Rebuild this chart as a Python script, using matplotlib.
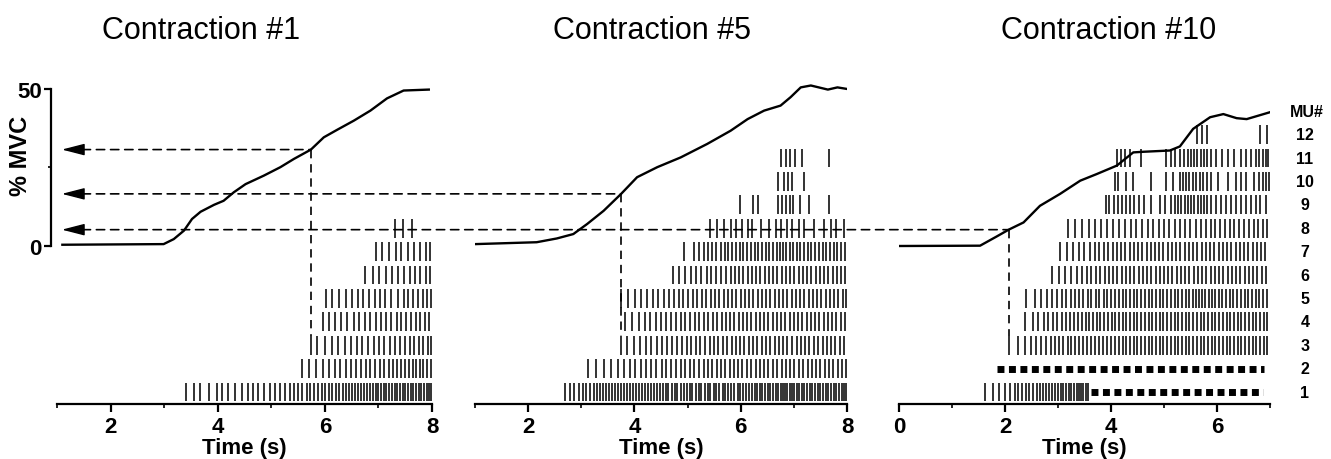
import matplotlib
matplotlib.use("Agg")
import matplotlib.pyplot as plt
from matplotlib.patches import ConnectionPatch
from matplotlib.ticker import MultipleLocator

plt.rcParams["font.family"] = ["Liberation Sans", "DejaVu Sans"]

# ---- force traces (% MVC vs time, s) ----
force1_t = [1.10, 2.99, 3.18, 3.37, 3.52, 3.68, 3.93, 4.11, 4.30, 4.52, 4.86,
            5.17, 5.42, 5.74, 5.98, 6.23, 6.54, 6.85, 7.16, 7.47, 7.94]
force1_y = [0.4, 0.6, 2.2, 4.9, 8.6, 10.9, 13.1, 14.4, 17.1, 19.7, 22.4,
            25.1, 27.7, 30.7, 34.6, 37.0, 39.9, 43.1, 47.0, 49.5, 49.8]

force5_t = [1.00, 2.16, 2.54, 2.85, 3.11, 3.42, 3.75, 4.05, 4.43, 4.87, 5.37,
            5.81, 6.13, 6.44, 6.75, 6.94, 7.13, 7.32, 7.64, 7.82, 8.00]
force5_y = [0.6, 1.2, 2.4, 3.8, 7.0, 11.2, 16.6, 21.9, 25.1, 28.2, 32.5,
            36.7, 40.4, 43.1, 44.7, 47.4, 50.5, 51.1, 49.8, 50.5, 50.0]

force10_t = [0.00, 1.53, 1.84, 2.07, 2.35, 2.66, 3.04, 3.42, 3.73, 4.11, 4.42,
             4.61, 5.11, 5.30, 5.55, 5.87, 6.12, 6.37, 6.56, 6.78, 7.00]
force10_y = [0.0, 0.1, 3.0, 5.2, 7.5, 12.8, 16.6, 20.8, 22.9, 25.6, 29.8,
             30.0, 30.4, 31.7, 37.3, 41.0, 42.0, 40.7, 40.4, 41.5, 42.6]

# ---- motor unit spike times (s), MU1 first ----
spikes1 = [
    [3.41, 3.55, 3.67, 3.83, 3.98, 4.08, 4.20, 4.33, 4.45, 4.56, 4.66, 4.76,
     4.87, 4.98, 5.06, 5.16, 5.25, 5.34, 5.42, 5.50, 5.58, 5.66, 5.73, 5.80,
     5.88, 5.94, 6.01, 6.08, 6.14, 6.20, 6.26, 6.33, 6.39, 6.45, 6.51, 6.56,
     6.62, 6.68, 6.73, 6.79, 6.84, 6.90, 6.95, 7.00, 7.05, 7.10, 7.15, 7.20,
     7.25, 7.30, 7.35, 7.40, 7.45, 7.50, 7.55, 7.60, 7.65, 7.70, 7.75, 7.80,
     7.85, 7.90, 7.95, 7.99],
    [5.57, 5.70, 5.83, 5.96, 6.07, 6.18, 6.29, 6.39, 6.49, 6.58, 6.68, 6.76,
     6.85, 6.94, 7.02, 7.11, 7.19, 7.27, 7.34, 7.42, 7.49, 7.57, 7.64, 7.71,
     7.78, 7.84, 7.91, 7.98],
    [5.74, 5.86, 6.00, 6.13, 6.25, 6.37, 6.48, 6.60, 6.70, 6.81, 6.91, 7.01,
     7.11, 7.21, 7.30, 7.40, 7.49, 7.58, 7.67, 7.76, 7.84, 7.93, 7.99],
    [5.96, 6.07, 6.19, 6.31, 6.42, 6.54, 6.64, 6.75, 6.85, 6.95, 7.05, 7.15,
     7.24, 7.34, 7.43, 7.52, 7.61, 7.70, 7.78, 7.86, 7.94],
    [6.02, 6.14, 6.27, 6.39, 6.50, 6.61, 6.72, 6.83, 6.93, 7.03, 7.13, 7.23,
     7.37, 7.47, 7.56, 7.65, 7.74, 7.83, 7.91, 7.99],
    [6.75, 6.89, 7.01, 7.14, 7.25, 7.36, 7.47, 7.58, 7.68, 7.78, 7.88, 7.97],
    [6.95, 7.07, 7.20, 7.32, 7.43, 7.55, 7.66, 7.77, 7.88, 7.97],
    [7.31, 7.46, 7.62],
]

spikes5 = [
    [2.70, 2.78, 2.87, 2.95, 3.03, 3.09, 3.16, 3.23, 3.29, 3.35, 3.41, 3.46,
     3.52, 3.58, 3.63, 3.69, 3.75, 3.80, 3.86, 3.91, 3.97, 4.03, 4.08, 4.14,
     4.19, 4.25, 4.31, 4.36, 4.42, 4.48, 4.53, 4.59, 4.64, 4.70, 4.76, 4.81,
     4.87, 4.93, 4.98, 5.04, 5.09, 5.15, 5.21, 5.26, 5.32, 5.38, 5.43, 5.49,
     5.54, 5.60, 5.66, 5.71, 5.77, 5.82, 5.88, 5.94, 5.99, 6.05, 6.10, 6.16,
     6.21, 6.26, 6.31, 6.36, 6.41, 6.46, 6.51, 6.56, 6.61, 6.66, 6.71, 6.76,
     6.80, 6.84, 6.88, 6.92, 6.96, 7.00, 7.05, 7.10, 7.15, 7.20, 7.25, 7.30,
     7.35, 7.40, 7.45, 7.50, 7.55, 7.60, 7.65, 7.70, 7.75, 7.80, 7.85, 7.90,
     7.95, 7.99],
    [3.12, 3.27, 3.43, 3.56, 3.69, 3.80, 3.91, 4.02, 4.12, 4.22, 4.32, 4.41,
     4.51, 4.60, 4.69, 4.78, 4.87, 4.96, 5.04, 5.13, 5.22, 5.30, 5.38, 5.46,
     5.55, 5.63, 5.71, 5.79, 5.87, 5.95, 6.03, 6.11, 6.20, 6.28, 6.36, 6.44,
     6.52, 6.60, 6.69, 6.77, 6.85, 6.93, 7.01, 7.09, 7.17, 7.26, 7.34, 7.42,
     7.50, 7.58, 7.66, 7.74, 7.83, 7.91, 7.99],
    [3.75, 3.86, 3.99, 4.10, 4.21, 4.32, 4.42, 4.52, 4.61, 4.71, 4.80, 4.89,
     4.98, 5.07, 5.16, 5.24, 5.33, 5.42, 5.50, 5.58, 5.66, 5.74, 5.83, 5.91,
     5.99, 6.07, 6.15, 6.23, 6.31, 6.40, 6.48, 6.56, 6.64, 6.72, 6.80, 6.88,
     6.97, 7.05, 7.13, 7.21, 7.29, 7.37, 7.45, 7.54, 7.62, 7.70, 7.78, 7.86,
     7.94],
    [3.83, 3.96, 4.08, 4.19, 4.30, 4.40, 4.50, 4.60, 4.69, 4.78, 4.87, 4.96,
     5.05, 5.14, 5.22, 5.31, 5.39, 5.47, 5.56, 5.64, 5.72, 5.80, 5.88, 5.96,
     6.04, 6.12, 6.20, 6.28, 6.36, 6.44, 6.52, 6.60, 6.68, 6.76, 6.84, 6.92,
     7.00, 7.08, 7.16, 7.24, 7.32, 7.40, 7.48, 7.56, 7.64, 7.72, 7.80, 7.88,
     7.96],
    [3.74, 3.88, 4.01, 4.13, 4.24, 4.35, 4.45, 4.55, 4.65, 4.74, 4.83, 4.92,
     5.01, 5.10, 5.18, 5.27, 5.35, 5.44, 5.52, 5.60, 5.68, 5.76, 5.84, 5.92,
     6.00, 6.08, 6.16, 6.24, 6.32, 6.40, 6.48, 6.56, 6.64, 6.72, 6.80, 6.88,
     6.96, 7.04, 7.12, 7.20, 7.28, 7.36, 7.44, 7.52, 7.60, 7.68, 7.76, 7.84,
     7.92, 7.99],
    [4.72, 4.84, 4.95, 5.06, 5.16, 5.26, 5.36, 5.45, 5.54, 5.63, 5.72, 5.81,
     5.89, 5.97, 6.05, 6.13, 6.21, 6.29, 6.37, 6.45, 6.53, 6.61, 6.69, 6.77,
     6.85, 6.93, 7.01, 7.09, 7.17, 7.25, 7.33, 7.41, 7.49, 7.57, 7.65, 7.73,
     7.81, 7.89, 7.97],
    [4.94, 5.12, 5.21, 5.30, 5.38, 5.46, 5.54, 5.62, 5.70, 5.77, 5.84, 5.91,
     5.98, 6.05, 6.12, 6.19, 6.26, 6.33, 6.40, 6.47, 6.54, 6.61, 6.68, 6.74,
     6.80, 6.86, 6.92, 6.98, 7.05, 7.12, 7.19, 7.26, 7.33, 7.40, 7.47, 7.54,
     7.61, 7.68, 7.75, 7.82, 7.89, 7.96],
    [5.43, 5.56, 5.69, 5.81, 5.91, 6.03, 6.13, 6.22, 6.38, 6.53, 6.66, 6.75,
     6.88, 6.97, 7.10, 7.19, 7.38, 7.57, 7.70, 7.79, 7.95],
    [5.99, 6.24, 6.33, 6.70, 6.77, 6.85, 6.92, 6.99, 7.11, 7.28, 7.67],
    [6.71, 6.81, 6.89, 6.96, 7.19],
    [6.76, 6.85, 6.93, 7.02, 7.15, 7.66],
]

spikes10 = [
    [1.62, 1.77, 1.89, 2.00, 2.09, 2.18, 2.25, 2.33, 2.40, 2.46, 2.53, 2.60,
     2.66, 2.72, 2.78, 2.83, 2.89, 2.95, 3.00, 3.05, 3.10, 3.15, 3.20, 3.25,
     3.30, 3.35, 3.39, 3.44, 3.48, 3.52, 3.57],
    [],
    [2.07, 2.25, 2.38, 2.49, 2.59, 2.68, 2.77, 2.86, 2.94, 3.02, 3.10, 3.18,
     3.25, 3.33, 3.40, 3.48, 3.55, 3.63, 3.70, 3.78, 3.85, 3.93, 4.00, 4.08,
     4.15, 4.22, 4.29, 4.36, 4.43, 4.50, 4.57, 4.64, 4.71, 4.78, 4.85, 4.92,
     4.99, 5.06, 5.13, 5.20, 5.27, 5.34, 5.41, 5.48, 5.55, 5.62, 5.69, 5.76,
     5.83, 5.90, 5.97, 6.04, 6.11, 6.18, 6.25, 6.32, 6.39, 6.46, 6.53, 6.60,
     6.67, 6.74, 6.81, 6.88, 6.95],
    [2.38, 2.52, 2.63, 2.73, 2.82, 2.91, 2.99, 3.07, 3.15, 3.23, 3.30, 3.38,
     3.45, 3.52, 3.59, 3.66, 3.73, 3.80, 3.87, 3.94, 4.01, 4.08, 4.15, 4.22,
     4.29, 4.36, 4.43, 4.50, 4.57, 4.64, 4.71, 4.78, 4.85, 4.92, 4.99, 5.06,
     5.13, 5.20, 5.27, 5.34, 5.41, 5.48, 5.55, 5.62, 5.69, 5.76, 5.83, 5.90,
     5.97, 6.04, 6.11, 6.18, 6.25, 6.32, 6.39, 6.46, 6.53, 6.60, 6.67, 6.74,
     6.81, 6.88, 6.95],
    [2.39, 2.56, 2.68, 2.79, 2.89, 2.98, 3.07, 3.16, 3.24, 3.32, 3.40, 3.48,
     3.56, 3.63, 3.71, 3.78, 3.86, 3.93, 4.00, 4.08, 4.15, 4.22, 4.29, 4.36,
     4.43, 4.50, 4.57, 4.64, 4.71, 4.78, 4.85, 4.92, 4.99, 5.06, 5.13, 5.20,
     5.27, 5.34, 5.41, 5.48, 5.54, 5.60, 5.66, 5.72, 5.78, 5.84, 5.90, 5.96,
     6.03, 6.10, 6.17, 6.24, 6.31, 6.38, 6.45, 6.52, 6.59, 6.66, 6.73, 6.80,
     6.87, 6.94],
    [2.88, 3.02, 3.14, 3.25, 3.35, 3.45, 3.54, 3.63, 3.72, 3.80, 3.88, 3.96,
     4.04, 4.12, 4.20, 4.28, 4.36, 4.44, 4.52, 4.60, 4.68, 4.76, 4.84, 4.92,
     5.00, 5.08, 5.16, 5.24, 5.32, 5.40, 5.48, 5.56, 5.64, 5.72, 5.80, 5.88,
     5.96, 6.04, 6.12, 6.20, 6.28, 6.36, 6.44, 6.52, 6.60, 6.68, 6.76, 6.84,
     6.92],
    [3.03, 3.17, 3.29, 3.40, 3.50, 3.60, 3.69, 3.78, 3.87, 3.95, 4.03, 4.11,
     4.19, 4.27, 4.35, 4.43, 4.51, 4.59, 4.67, 4.75, 4.83, 4.91, 4.99, 5.07,
     5.15, 5.23, 5.31, 5.39, 5.47, 5.55, 5.63, 5.71, 5.79, 5.87, 5.95, 6.03,
     6.11, 6.19, 6.27, 6.35, 6.43, 6.51, 6.59, 6.67, 6.75, 6.83, 6.91],
    [3.19, 3.33, 3.46, 3.58, 3.70, 3.82, 3.93, 4.04, 4.15, 4.26, 4.37, 4.48,
     4.59, 4.70, 4.80, 4.90, 5.00, 5.10, 5.20, 5.30, 5.40, 5.50, 5.60, 5.70,
     5.79, 5.88, 5.97, 6.06, 6.15, 6.24, 6.33, 6.42, 6.51, 6.60, 6.69, 6.78,
     6.87, 6.95],
    [3.90, 3.96, 4.05, 4.13, 4.21, 4.29, 4.36, 4.44, 4.53, 4.63, 4.76, 4.93,
     5.01, 5.13, 5.20, 5.26, 5.32, 5.39, 5.45, 5.51, 5.57, 5.64, 5.70, 5.76,
     5.82, 5.89, 5.98, 6.07, 6.17, 6.26, 6.35, 6.45, 6.54, 6.64, 6.73, 6.82,
     6.92],
    [4.07, 4.14, 4.29, 4.42, 4.76, 5.04, 5.17, 5.30, 5.36, 5.42, 5.48, 5.55,
     5.61, 5.67, 5.73, 5.81, 5.89, 6.02, 6.20, 6.36, 6.45, 6.55, 6.70, 6.79,
     6.86, 6.92, 6.98],
    [4.12, 4.19, 4.27, 4.35, 4.57, 5.04, 5.13, 5.21, 5.30, 5.38, 5.45, 5.51,
     5.57, 5.63, 5.70, 5.76, 5.82, 5.89, 5.98, 6.10, 6.20, 6.32, 6.45, 6.54,
     6.64, 6.73, 6.79, 6.86, 6.92, 6.97],
    [5.62, 5.72, 5.82, 6.82, 6.95],
]

# MU1 and MU2 of contraction #10: firing not resolved, shown as dotted spans
dotted10_mu = [1, 2]
dotted10_start = [3.62, 1.84]
dotted10_end = [6.87, 6.89]

# recruitment of MU3: force level (% MVC) and time in each contraction
rec_level = [30.7, 16.6, 5.2]
rec_time = [5.74, 3.75, 2.07]
rec_mu = 3

titles = ["Contraction #1", "Contraction #5", "Contraction #10"]
title_x = [0.1514, 0.4902, 0.8332]
xlims = [(1, 8), (1, 8), (0, 7)]
mu_labels = [str(k) for k in range(1, 13)]

# layout
ROW0 = -46.5          # y of MU1 row (in % MVC units)
ROW_STEP = 7.45
HALF = 3.0            # half height of a spike tick
YLIM = (-50.3, 52)
ARROW_TIP, ARROW_TAIL = 1.09, 1.47
DASH = (0, (5, 3.5))


def row_y(k):
    return ROW0 + ROW_STEP * (k - 1)


fig = plt.figure(figsize=(13.31, 4.60), dpi=100)
rects = [(0.04283, 0.1196, 0.28174, 0.6985),
         (0.35687, 0.1196, 0.27949, 0.6985),
         (0.67543, 0.1196, 0.27874, 0.6985)]
axes = [fig.add_axes(r) for r in rects]

forces = [(force1_t, force1_y), (force5_t, force5_y), (force10_t, force10_y)]
rasters = [spikes1, spikes5, spikes10]

for i, ax in enumerate(axes):
    ax.set_xlim(*xlims[i])
    ax.set_ylim(*YLIM)
    ax.patch.set_alpha(0)
    t, y = forces[i]
    ax.plot(t, y, color="black", lw=1.7, zorder=3)
    for k, times in enumerate(rasters[i], start=1):
        if times:
            yk = row_y(k)
            ax.vlines(times, yk - HALF, yk + HALF, color="#111111", lw=1.2)

    for s in ["top", "right"]:
        ax.spines[s].set_visible(False)
    ax.spines["bottom"].set_linewidth(1.6)
    ax.xaxis.set_major_locator(MultipleLocator(2))
    ax.xaxis.set_minor_locator(MultipleLocator(1))
    ax.tick_params(axis="x", which="major", direction="out", length=6,
                   width=1.6, pad=3, labelsize=16)
    ax.tick_params(axis="x", which="minor", direction="out", length=3,
                   width=1.2)
    for lab in ax.get_xticklabels():
        lab.set_fontweight("bold")
    ax.set_xlabel("Time (s)", fontsize=16, fontweight="bold", labelpad=0)

    fig.text(title_x[i], 0.915, titles[i], fontsize=22, ha="center",
             va="baseline")

    if i == 0:
        ax.spines["left"].set_bounds(0, 50)
        ax.spines["left"].set_position(("outward", 4))
        ax.spines["left"].set_linewidth(1.6)
        ax.set_yticks([0, 50])
        ax.set_yticks([25], minor=True)
        ax.tick_params(axis="y", which="major", length=5, width=1.6, pad=2,
                       labelsize=16)
        ax.tick_params(axis="y", which="minor", length=2.5, width=1.2)
        for lab in ax.get_yticklabels():
            lab.set_fontweight("bold")
        ax.text(-0.097, 29, "% MVC", transform=ax.get_yaxis_transform(),
                rotation=90, ha="center", va="center", fontsize=17,
                fontweight="bold")
    else:
        ax.spines["left"].set_visible(False)
        ax.set_yticks([])

# dotted spans for MU1/MU2 in contraction #10
ax3 = axes[2]
for mu, t0, t1 in zip(dotted10_mu, dotted10_start, dotted10_end):
    ax3.plot([t0, t1], [row_y(mu), row_y(mu)], color="black", lw=5,
             linestyle=(0, (1, 0.65)), dash_capstyle="butt",
             solid_capstyle="butt")

# MU numbers on the right
for k, lab in enumerate(mu_labels, start=1):
    ax3.text(7.66, row_y(k), lab, ha="center", va="center", fontsize=11.5,
             fontweight="bold", clip_on=False)
ax3.text(7.70, row_y(13), "MU#", ha="center", va="center", fontsize=11.5,
         fontweight="bold", clip_on=False)

# recruitment threshold lines
ax1 = axes[0]
for i, (lvl, t_rec) in enumerate(zip(rec_level, rec_time)):
    ax1.annotate("", xy=(ARROW_TIP, lvl), xytext=(ARROW_TAIL, lvl),
                 arrowprops=dict(arrowstyle="-|>,head_length=14,head_width=3.6",
                                 mutation_scale=1, color="black", lw=1,
                                 shrinkA=0, shrinkB=0),
                 annotation_clip=False)
    con = ConnectionPatch(xyA=(ARROW_TAIL, lvl), coordsA=ax1.transData,
                          xyB=(t_rec, lvl), coordsB=axes[i].transData,
                          color="black", lw=1.2, linestyle=DASH)
    fig.add_artist(con)
    axes[i].plot([t_rec, t_rec], [lvl, row_y(rec_mu) + HALF], color="black",
                 lw=1.2, linestyle=DASH)

fig.savefig("out.png", dpi=100)
